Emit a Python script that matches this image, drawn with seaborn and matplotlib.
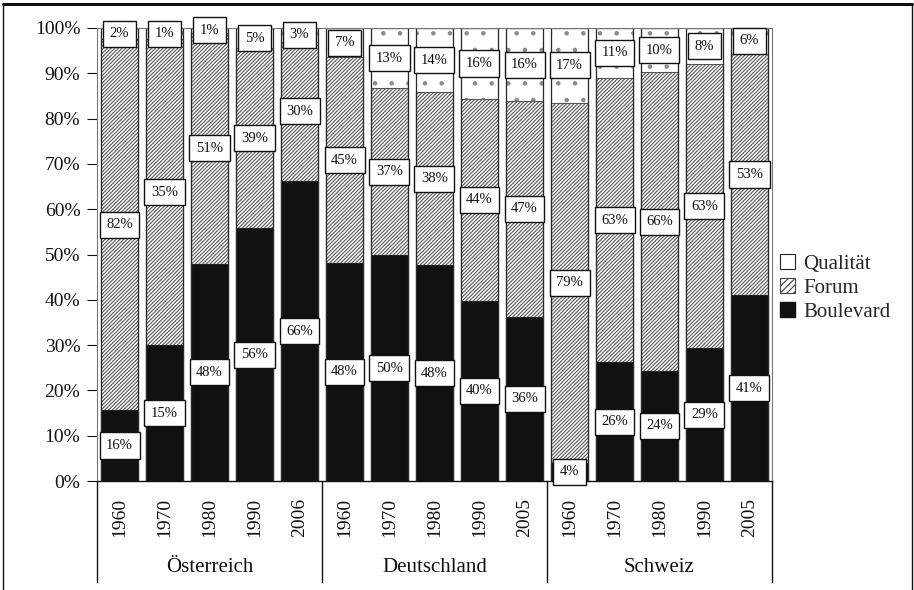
import numpy as np
import pandas as pd
import matplotlib
matplotlib.use("Agg")
import matplotlib.pyplot as plt
import matplotlib.transforms as mtransforms
from matplotlib.patches import Patch
from matplotlib.lines import Line2D
import seaborn as sns

sns.set_theme(style="white")
plt.rcParams["font.family"] = ["Liberation Serif", "DejaVu Serif"]
plt.rcParams["hatch.linewidth"] = 0.8

# ---------------- data ----------------
groups = ["Österreich", "Deutschland", "Schweiz"]
years = [["1960", "1970", "1980", "1990", "2006"],
         ["1960", "1970", "1980", "1990", "2005"],
         ["1960", "1970", "1980", "1990", "2005"]]
series_names = ["Qualität", "Forum", "Boulevard"]

boulevard = [15.7, 30.0, 48.0, 55.8, 66.2,
             48.2, 49.8, 47.6, 39.8, 36.3,
             4.0, 26.2, 24.3, 29.3, 41.0]
forum = [81.8, 67.5, 51.0, 39.7, 30.8,
         45.3, 36.9, 38.2, 44.5, 47.5,
         79.5, 62.8, 65.9, 62.7, 53.3]
qualitaet = [100 - b - f for b, f in zip(boulevard, forum)]

lab_boulevard = ["16%", "15%", "48%", "56%", "66%",
                 "48%", "50%", "48%", "40%", "36%",
                 "4%", "26%", "24%", "29%", "41%"]
lab_forum = ["82%", "35%", "51%", "39%", "30%",
             "45%", "37%", "38%", "44%", "47%",
             "79%", "63%", "66%", "63%", "53%"]
lab_qualitaet = ["2%", "1%", "1%", "5%", "3%",
                 "7%", "13%", "14%", "16%", "16%",
                 "17%", "11%", "10%", "8%", "6%"]

yticks = list(range(0, 101, 10))
ytick_labels = [f"{v}%" for v in yticks]

# ---------------- frame ----------------
keys = [f"{g} {y}" for g, ys in zip(groups, years) for y in ys]
year_labels = [y for ys in years for y in ys]
df = pd.DataFrame({
    "key": keys,
    "total": [b + f + q for b, f, q in zip(boulevard, forum, qualitaet)],
    "forum_top": [b + f for b, f in zip(boulevard, forum)],
    "boulevard": boulevard,
})

W, H = 914, 590
fig = plt.figure(figsize=(W / 100, H / 100), dpi=100)
ax = fig.add_axes([97 / W, 1 - 481 / H, 675 / W, 453 / H])

common = dict(data=df, x="key", order=keys, width=0.83, ax=ax,
              errorbar=None, saturation=1)
sns.barplot(y="total", color="white", edgecolor="#8a8a8a", linewidth=0.8,
            hatch=".", **common)
sns.barplot(y="forum_top", color="white", edgecolor="#555555", linewidth=0.8,
            hatch="/" * 9, **common)
sns.barplot(y="boulevard", color="#111111", edgecolor="#222222", linewidth=0.8,
            **common)
# dark outlines of the whole stacks
sns.barplot(y="total", fill=False, color="#2a2a2a", linewidth=0.9, **common)

ax.set_ylim(0, 100)
ax.set_xlim(-0.5, len(keys) - 0.5)
ax.set_xlabel("")
ax.set_ylabel("")
ax.set_yticks(yticks)
ax.set_yticklabels(ytick_labels)
ax.set_xticks(range(len(keys)))
ax.set_xticklabels(year_labels, rotation=90)
ax.tick_params(axis="y", left=True, direction="out", length=7, width=0.8,
               pad=5, labelsize=14, colors="#111111")
ax.tick_params(axis="x", bottom=False, length=0, pad=12, labelsize=14,
               colors="#111111")
for s in ["top", "right", "left"]:
    ax.spines[s].set_color("#777777")
    ax.spines[s].set_linewidth(0.8)
ax.spines["bottom"].set_color("#111111")
ax.spines["bottom"].set_linewidth(1.0)

# value labels
box = dict(boxstyle="square,pad=0.45", facecolor="white", edgecolor="#111111",
           linewidth=1.0)
for i in range(len(keys)):
    b, f, q = boulevard[i], forum[i], qualitaet[i]
    for ymid, txt in [(b / 2, lab_boulevard[i]),
                      (b + f / 2, lab_forum[i]),
                      (b + f + q / 2, lab_qualitaet[i])]:
        ax.text(i, ymid, txt, ha="center", va="center", fontsize=10.5,
                color="#111111", bbox=box, zorder=5, clip_on=False)

# group separators and labels under the axis
trans = mtransforms.blended_transform_factory(ax.transData, ax.transAxes)
ybot = (481 - 582) / 453
n_per = [len(ys) for ys in years]
edges = np.concatenate([[0], np.cumsum(n_per)]) - 0.5
for e in edges:
    ax.add_line(Line2D([e, e], [0, ybot], transform=trans, color="#111111",
                       linewidth=1.0, clip_on=False))
for gi, g in enumerate(groups):
    xc = (edges[gi] + edges[gi + 1]) / 2
    ax.text(xc, (481 - 568) / 453, g, transform=trans, ha="center",
            va="center", fontsize=15, color="#111111")

# legend
handles = [Patch(facecolor="white", edgecolor="#222222", linewidth=0.8),
           Patch(facecolor="white", edgecolor="#444444", hatch="/" * 5,
                 linewidth=0.8),
           Patch(facecolor="#111111", edgecolor="#111111")]
fig.legend(handles, series_names, loc="center left",
           bbox_to_anchor=(780 / W, 1 - 288 / H), frameon=False, fontsize=15,
           handlelength=0.7, handleheight=0.7, handletextpad=0.4,
           labelspacing=0.2, borderaxespad=0, borderpad=0)

# outer frame
fig.add_artist(Line2D([3 / W, 911.5 / W], [1 - 3.5 / H, 1 - 3.5 / H],
                      transform=fig.transFigure, color="#111111", linewidth=2.2))
fig.add_artist(Line2D([3 / W, 3 / W], [0, 1 - 3.5 / H],
                      transform=fig.transFigure, color="#111111", linewidth=1.0))
fig.add_artist(Line2D([911.5 / W, 911.5 / W], [0, 1 - 3.5 / H],
                      transform=fig.transFigure, color="#111111", linewidth=1.0))

fig.savefig("out.png", dpi=100)
